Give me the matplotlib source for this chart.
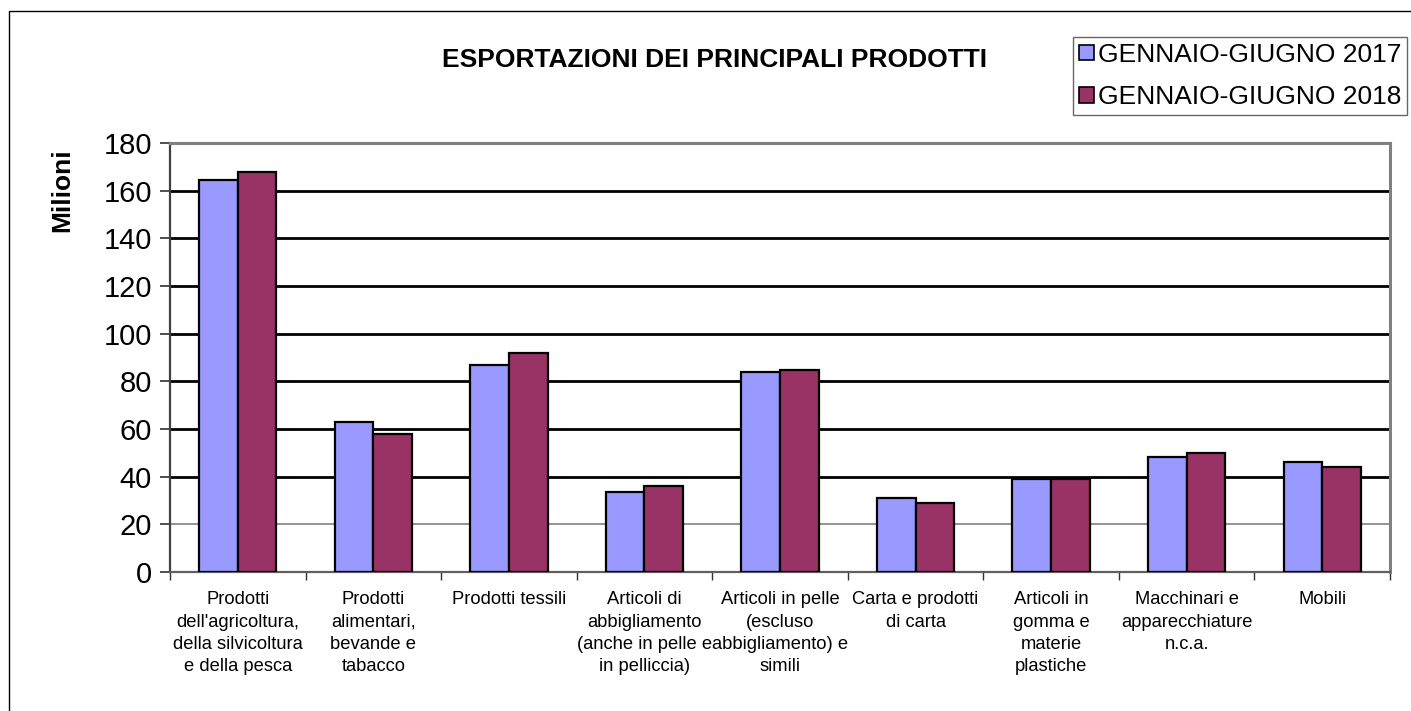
import matplotlib
matplotlib.use("Agg")
import matplotlib.pyplot as plt
import numpy as np
from matplotlib.patches import Patch
from matplotlib.lines import Line2D

plt.rcParams['font.family'] = ['Liberation Sans', 'DejaVu Sans']

categories = [
    "Prodotti\ndell'agricoltura,\ndella silvicoltura\ne della pesca",
    "Prodotti\nalimentari,\nbevande e\ntabacco",
    "Prodotti tessili",
    "Articoli di\nabbigliamento\n(anche in pelle e\nin pelliccia)",
    "Articoli in pelle\n(escluso\nabbigliamento) e\nsimili",
    "Carta e prodotti\ndi carta",
    "Articoli in\ngomma e\nmaterie\nplastiche",
    "Macchinari e\napparecchiature\nn.c.a.",
    "Mobili",
]
series_names = ["GENNAIO-GIUGNO 2017", "GENNAIO-GIUGNO 2018"]
values_2017 = [164.5, 62.8, 86.9, 33.7, 84.1, 30.9, 38.9, 48.1, 46.3]
values_2018 = [168.0, 57.8, 91.9, 36.2, 84.8, 29.0, 38.9, 49.9, 44.1]
yticks = [0, 20, 40, 60, 80, 100, 120, 140, 160, 180]
title = "ESPORTAZIONI DEI PRINCIPALI PRODOTTI"
ylabel = "Milioni"

colors = ["#9999FF", "#993366"]

W, H = 1411, 711
fig = plt.figure(figsize=(W / 100, H / 100), dpi=100)
ax = fig.add_axes([170 / W, 1 - 572 / H, (1390 - 170) / W, (572 - 143) / H])

n = len(categories)
x = np.arange(n)
bw = 0.285
ax.bar(x - bw / 2, values_2017, bw, color=colors[0], edgecolor="black", linewidth=1.6, zorder=3)
ax.bar(x + bw / 2, values_2018, bw, color=colors[1], edgecolor="black", linewidth=1.6, zorder=3)

ax.set_xlim(-0.5, n - 0.5)
ax.set_ylim(0, 180)

# gridlines
for v in yticks[1:-1]:
    if v == yticks[1]:
        ax.axhline(v, color="#808080", lw=1.2, zorder=1)
    else:
        ax.axhline(v, color="black", lw=2.0, zorder=1)

ax.set_yticks(yticks)
ax.set_yticklabels([str(v) for v in yticks], fontsize=21)
ax.tick_params(axis="y", direction="out", length=7, width=1.2, color="#303030", pad=6)

ax.set_xticks(x)
ax.set_xticklabels(categories, fontsize=13.2, linespacing=1.4, va="top")
ax.set_xticks(np.arange(-0.5, n, 1.0), minor=True)
ax.tick_params(axis="x", which="major", length=0, pad=14)
ax.tick_params(axis="x", which="minor", direction="out", length=6, width=1.0, color="#303030")

for side in ["top", "right"]:
    ax.spines[side].set_color("#808080")
    ax.spines[side].set_linewidth(2.2)
ax.spines["left"].set_color("#404040")
ax.spines["left"].set_linewidth(1.6)
ax.spines["bottom"].set_color("#606060")
ax.spines["bottom"].set_linewidth(1.6)

fig.text(62 / W, 1 - 190 / H, ylabel, rotation=90, fontsize=19, fontweight="bold",
         ha="center", va="center")
fig.text(714 / W, 1 - 60 / H, title, fontsize=19, fontweight="bold", ha="center", va="center")

handles = [Patch(facecolor=colors[0], edgecolor="black", linewidth=1.2),
           Patch(facecolor=colors[1], edgecolor="black", linewidth=1.2)]
leg = fig.legend(handles, series_names, loc="upper right",
                 bbox_to_anchor=(1407 / W, 1 - 37 / H), fontsize=19,
                 frameon=True, fancybox=False, edgecolor="#404040",
                 handlelength=0.55, handleheight=0.55, handletextpad=0.15,
                 borderpad=0.22, labelspacing=0.7, borderaxespad=0)
leg.get_frame().set_linewidth(1.0)

# figure border (left and top)
fig.add_artist(Line2D([9 / W, 9 / W, 1.0], [0.0, 1 - 11 / H, 1 - 11 / H],
                      transform=fig.transFigure, color="black", lw=1.0))

fig.savefig("out.png", dpi=100)
